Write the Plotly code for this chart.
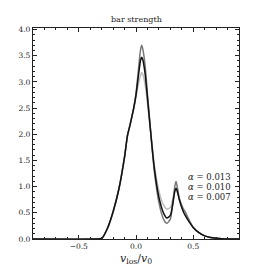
import plotly.graph_objects as go

x = [-0.9, -0.35, -0.3, -0.25, -0.2, -0.15, -0.1, -0.075, -0.05, -0.02, 0.0, 0.02, 0.04, 0.05, 0.06, 0.08, 0.1, 0.13, 0.16, 0.2, 0.24, 0.27, 0.3, 0.32, 0.34, 0.35, 0.36, 0.38, 0.41, 0.43, 0.46, 0.5, 0.55, 0.6, 0.65, 0.7, 0.75, 0.8, 0.9]
y_013 = [0, 0, 0.01, 0.2, 0.52, 0.95, 1.57, 1.97, 2.2, 2.5, 2.78, 3.2, 3.62, 3.7, 3.62, 3.3, 2.78, 2.0, 1.3, 0.7, 0.38, 0.3, 0.38, 0.65, 1.02, 1.1, 1.0, 0.76, 0.58, 0.52, 0.38, 0.22, 0.12, 0.06, 0.03, 0.015, 0.005, 0, 0]
y_010 = [0, 0, 0.01, 0.2, 0.52, 0.95, 1.57, 1.97, 2.2, 2.5, 2.75, 3.1, 3.42, 3.47, 3.42, 3.15, 2.7, 2.0, 1.35, 0.8, 0.5, 0.4, 0.45, 0.65, 0.92, 0.97, 0.92, 0.74, 0.54, 0.45, 0.34, 0.22, 0.12, 0.06, 0.03, 0.015, 0.005, 0, 0]
y_007 = [0, 0, 0.01, 0.2, 0.52, 0.95, 1.57, 1.97, 2.2, 2.5, 2.72, 2.95, 3.12, 3.18, 3.14, 2.95, 2.6, 2.0, 1.42, 0.92, 0.65, 0.57, 0.6, 0.75, 0.92, 0.95, 0.9, 0.76, 0.6, 0.52, 0.38, 0.22, 0.12, 0.06, 0.03, 0.015, 0.005, 0, 0]
labels = ["0.013", "0.010", "0.007"]
x_ticks = [-0.5, 0.0, 0.5]
x_ticklabels = ["\u22120.5", "0.0", "0.5"]

FONT = "DejaVu Serif"
INK = "#222222"
fig = go.Figure()
for ys, col in [(y_007, "#bbbbbb"), (y_013, "#777777"), (y_010, "#111111")]:
    fig.add_trace(go.Scatter(x=x, y=ys, mode="lines",
                             line=dict(color=col, width=1.5, shape="spline", smoothing=0.6),
                             showlegend=False, hoverinfo="skip"))

for i, lab in enumerate(labels):
    fig.add_annotation(x=1.0, xref="paper", xanchor="right", xshift=-6,
                       y=1.18 - i * 0.19, yref="y", yanchor="middle",
                       text="<i>\u03b1</i> = " + lab, showarrow=False,
                       font=dict(family=FONT, size=8.5, color=INK))

fig.add_annotation(x=0.5, xref="paper", y=0, yref="paper", yanchor="top", yshift=-11,
                   text="<i>v</i><sub>los</sub>/<i>v</i><sub>0</sub>", showarrow=False,
                   font=dict(family=FONT, size=11, color=INK))
fig.add_annotation(x=0.5, xref="paper", y=1, yref="paper", yanchor="bottom", yshift=2,
                   text="bar strength", showarrow=False,
                   font=dict(family=FONT, size=8, color=INK))

axis_common = dict(showgrid=False, zeroline=False, showline=True, linecolor=INK,
                   linewidth=1.2, mirror="ticks", ticks="inside", ticklen=4,
                   tickcolor=INK, tickfont=dict(family=FONT, size=7.5, color=INK),
                   automargin=False)
fig.update_xaxes(range=[-0.9, 0.9], tickvals=x_ticks, ticktext=x_ticklabels,
                 minor=dict(ticks="inside", ticklen=2, dtick=0.1, tick0=0, tickcolor=INK),
                 **axis_common)
fig.update_yaxes(range=[0, 4.03], dtick=0.5, tick0=0, tickformat=".1f",
                 minor=dict(ticks="inside", ticklen=2, dtick=0.1, tick0=0, tickcolor=INK),
                 **axis_common)
fig.update_layout(width=266, height=266, margin=dict(l=33, r=27, t=28, b=27, autoexpand=False),
                  plot_bgcolor="white", paper_bgcolor="white")
fig.write_html("out.html", config={"displayModeBar": False},
               post_script="document.body.style.margin='0';document.body.style.overflow='hidden';")
